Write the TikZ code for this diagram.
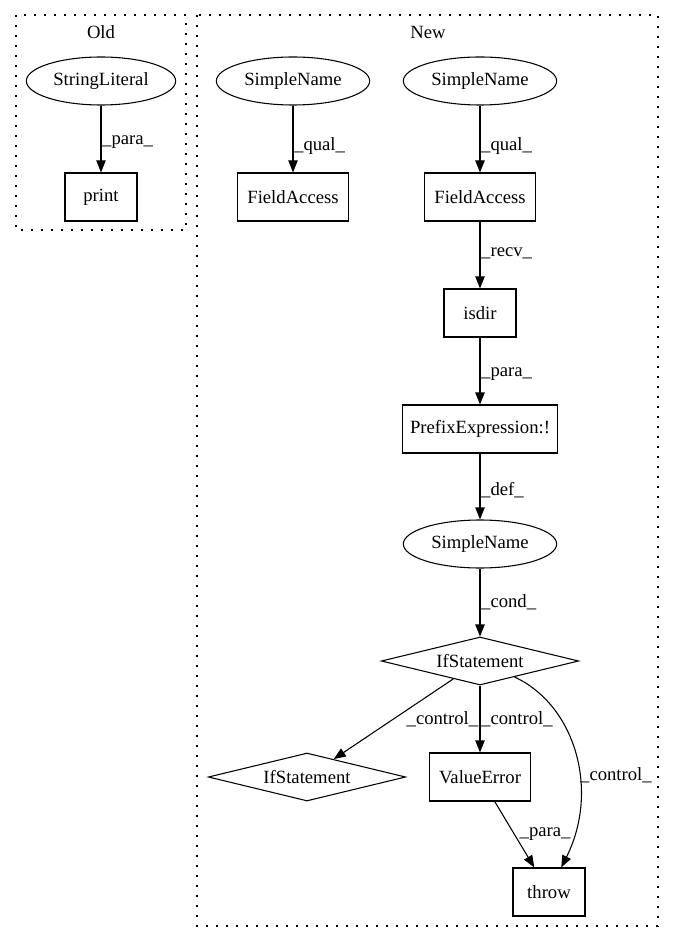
\documentclass[tikz,border=0pt]{standalone}
\usepackage{fontspec}
\setmainfont{Liberation Serif}
\usetikzlibrary{shapes.geometric,arrows.meta}

\begin{document}
\begin{tikzpicture}[x=0.75pt, y=-0.75pt,
    font=\fontsize{14pt}{16pt}\selectfont,
    ell/.style={ellipse, draw, line width=0.8pt, minimum height=36pt, inner sep=1pt},
    box/.style={rectangle, draw, line width=0.8pt, minimum height=36pt},
    dia/.style={diamond, draw, line width=0.8pt, aspect=4, inner sep=0pt, minimum width=148pt, minimum height=36pt},
    arr/.style={-{Triangle[length=9pt,width=7pt]}, line width=0.8pt},
    lbl/.style={anchor=west, inner sep=0.5pt},
    cluster/.style={line width=0.8pt, dash pattern=on 1.5pt off 6pt}]
    \useasboundingbox (0, 0) rectangle (675, 944);

    % 枠を描く
    \draw[cluster] (16, 15) rectangle (186, 230);
    \draw[cluster] (197, 15) rectangle (658, 926);
    \node (oldlbl) at (101, 32) {Old};
    \node (newlbl) at (428, 32) {New};

    % ノードを置く
    \node[ell, minimum width=112pt] (sl) at (101, 81) {StringLiteral};
    \node[box, minimum width=54pt] (print) at (101, 197) {print};

    \node[ell, minimum width=115pt] (sn1) at (293, 81) {SimpleName};
    \node[box, minimum width=83pt] (fa1) at (293, 197) {FieldAccess};

    \node[ell, minimum width=115pt] (sn2) at (480, 81) {SimpleName};
    \node[box, minimum width=83pt] (fa2) at (480, 197) {FieldAccess};
    \node[box, minimum width=54pt] (isdir) at (480, 313) {isdir};
    \node[box, minimum width=116pt] (prefix) at (480, 429) {PrefixExpression:!};
    \node[ell, minimum width=115pt] (sn3) at (480, 544) {SimpleName};
    \node[dia] (if1) at (480, 661) {IfStatement};
    \node[dia] (if2) at (307, 777) {IfStatement};
    \node[box, minimum width=76pt] (verr) at (480, 777) {ValueError};
    \node[box, minimum width=54pt] (throw) at (549, 892) {throw};

    % 線を引く
    \draw[arr] (sl) -- node[lbl, pos=0.55] {\_para\_} (print);
    \draw[arr] (sn1) -- node[lbl, pos=0.6] {\_qual\_} (fa1);
    \draw[arr] (sn2) -- node[lbl, pos=0.6] {\_qual\_} (fa2);
    \draw[arr] (fa2) -- node[lbl, pos=0.47] {\_recv\_} (isdir);
    \draw[arr] (isdir) -- node[lbl, pos=0.55] {\_para\_} (prefix);
    \draw[arr] (prefix) -- node[lbl, pos=0.55] {\_def\_} (sn3);
    \draw[arr] (sn3) -- node[lbl, pos=0.5] {\_cond\_} (if1);
    \draw[arr] (if1) -- node[lbl, pos=0.5, xshift=9pt] {\_control\_} (if2);
    \draw[arr] (if1) -- node[lbl, pos=0.5] {\_control\_} (verr);
    \draw[arr] (if1) .. controls (575, 705) and (600, 790) .. node[lbl, pos=0.6] {\_control\_} (throw);
    \draw[arr] (verr) -- node[lbl, pos=0.5, xshift=3pt] {\_para\_} (throw);

\end{tikzpicture}
\end{document}
